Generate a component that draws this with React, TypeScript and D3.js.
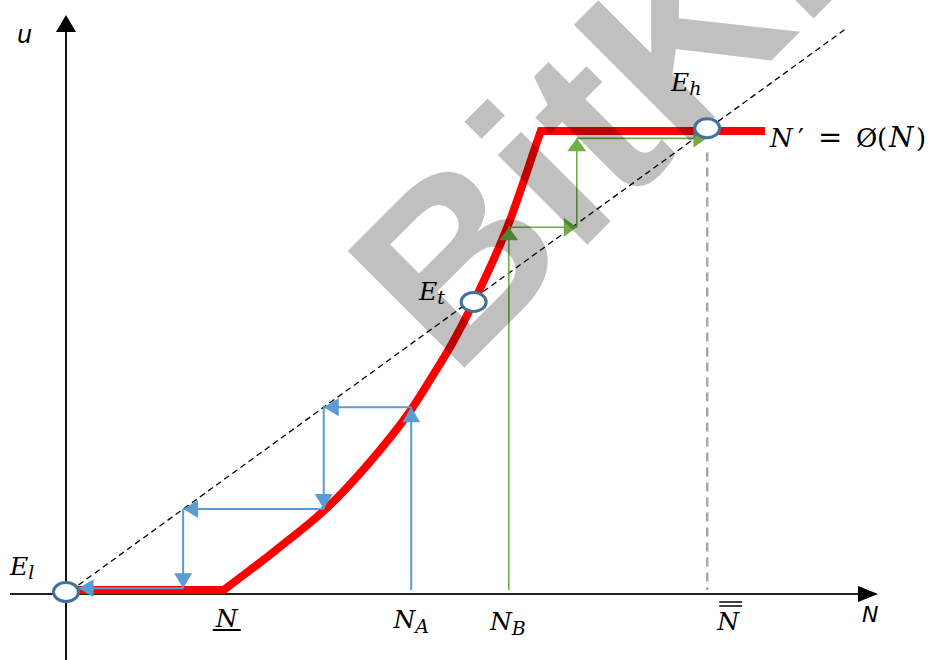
import React from 'react';
import * as d3 from 'd3';

const W = 939;
const H = 660;

// Phase curve N' = Ø(N) (data units: 45° line is u = N)
const curveLow: [number, number][] = [[0.5, 0.7], [20.2, 0.7]];
const curveRise: [number, number][] = [
  [20.2, 0.7], [27, 7.9], [33.4, 15.2], [38.9, 23.3], [44.4, 33], [46.6, 37.8],
  [49.5, 44.4], [52.2, 51.6], [56.5, 64.8], [60.4, 80.2], [60.8, 81.8],
];
const curveHigh: [number, number][] = [[60.8, 81.8], [89.5, 81.8]];

// Cobweb paths
const bluePath: [number, number][] = [
  [44.2, 0.7], [44.2, 33], [33, 33], [33, 15], [15, 15], [15, 1], [1.6, 1],
];
const greenPath: [number, number][] = [
  [56.7, 0.7], [56.7, 64.8], [65.4, 64.8], [65.4, 80.5], [82, 80.5],
];

// Equilibria
const eqNames = ['l', 't', 'h'];
const eqN = [0, 52.2, 82.1];
const eqU = [0.35, 51.6, 82.3];

// x-axis markers
const markN = { low: 20.2, A: 44.2, B: 56.7, high: 82.1 };

const diag: [number, number][] = [[1.6, 1.6], [100, 100]];

const x = d3.scaleLinear().domain([0, 100]).range([66, 847]);
const y = d3.scaleLinear().domain([0, 100]).range([594, 28]);

const lineGen = d3.line<[number, number]>().x(d => x(d[0])).y(d => y(d[1]));
const riseGen = d3.line<[number, number]>().x(d => x(d[0])).y(d => y(d[1])).curve(d3.curveMonotoneX);

function arrowHead(x1: number, y1: number, x2: number, y2: number, L: number, hw: number) {
  const dx = x2 - x1, dy = y2 - y1;
  const len = Math.hypot(dx, dy) || 1;
  const ux = dx / len, uy = dy / len;
  const bx = x2 - ux * L, by = y2 - uy * L;
  const nx = -uy, ny = ux;
  return `${x2},${y2} ${bx + nx * hw},${by + ny * hw} ${bx - nx * hw},${by - ny * hw}`;
}

function Cobweb({ pts, color, L, hw, sw }: { pts: [number, number][]; color: string; L: number; hw: number; sw: number }) {
  const segs = [];
  for (let i = 0; i < pts.length - 1; i++) {
    const x1 = x(pts[i][0]), y1 = y(pts[i][1]);
    const x2 = x(pts[i + 1][0]), y2 = y(pts[i + 1][1]);
    segs.push(
      <g key={i}>
        <line x1={x1} y1={y1} x2={x2} y2={y2} stroke={color} strokeWidth={sw} />
        <polygon points={arrowHead(x1, y1, x2, y2, L, hw)} fill={color} />
      </g>
    );
  }
  return <g>{segs}</g>;
}

const mathFont = '"DejaVu Serif", serif';
const sansFont = '"DejaVu Sans", sans-serif';

export default function App() {
  const redPath =
    (lineGen(curveLow) || '') + (riseGen(curveRise) || '').replace(/^M/, 'L') + (lineGen(curveHigh) || '').replace(/^M/, 'L');
  const axisY = y(0);
  const axisX = x(0);
  return (
    <svg width={W} height={H} style={{ position: 'fixed', left: 0, top: 0, display: 'block', background: '#fff' }}>
      <rect x={0} y={0} width={W} height={H} fill="#fff" />
      {/* axes */}
      <line x1={10} y1={axisY} x2={862} y2={axisY} stroke="#222" strokeWidth={2} />
      <polygon points={`878,${axisY} 858,${axisY - 8} 858,${axisY + 8}`} fill="#000" />
      <line x1={axisX} y1={H} x2={axisX} y2={28} stroke="#111" strokeWidth={2} />
      <polygon points={`${axisX},15 ${axisX - 10},32 ${axisX + 10},32`} fill="#000" />

      {/* 45 degree line */}
      <path d={lineGen(diag) || ''} fill="none" stroke="#000" strokeWidth={1.3} strokeDasharray="6,4" />

      {/* vertical dashed at N double bar */}
      <line x1={x(markN.high)} y1={y(78)} x2={x(markN.high)} y2={axisY - 4} stroke="#a6a6a6" strokeWidth={2.5} strokeDasharray="9,6" />

      {/* red curve */}
      <path d={redPath} fill="none" stroke="#ff0000" strokeWidth={8} strokeLinejoin="miter" />

      {/* cobwebs */}
      <Cobweb pts={bluePath} color="#5b9bd5" L={15} hw={9} sw={2} />
      <Cobweb pts={greenPath} color="#70ad47" L={13} hw={9.5} sw={1.6} />

      {/* watermark */}
      <text
        transform="translate(453,379) rotate(-45)"
        fontFamily='"Liberation Sans", Arial, sans-serif'
        fontWeight="bold"
        fontSize={240}
        fill="#000"
        fillOpacity={0.247}
      >
        BitKi
      </text>

      {/* equilibria */}
      {eqN.map((n, i) => (
        <ellipse key={eqNames[i]} cx={x(n)} cy={y(eqU[i])} rx={12.5} ry={9.5} fill="#fff" stroke="#41719c" strokeWidth={3} />
      ))}

      {/* equilibrium labels */}
      <text x={10} y={575} fontFamily={mathFont} fontStyle="italic" fontSize={25}>
        E<tspan fontSize={19} dy={4}>l</tspan>
      </text>
      <text x={419} y={300} fontFamily={mathFont} fontStyle="italic" fontSize={25}>
        E<tspan fontSize={19} dy={4}>t</tspan>
      </text>
      <text x={671} y={91} fontFamily={mathFont} fontStyle="italic" fontSize={25}>
        E<tspan fontSize={19} dy={4}>h</tspan>
      </text>

      {/* curve label */}
      <text y={147} fontFamily={mathFont} fontSize={26}>
        <tspan x={770} fontStyle="italic">N</tspan>
        <tspan x={798}>′</tspan>
        <tspan x={818} fontSize={29}>=</tspan>
        <tspan x={856}>Ø</tspan>
        <tspan x={877}>(</tspan>
        <tspan x={889} fontStyle="italic" fontSize={28}>N</tspan>
        <tspan x={916}>)</tspan>
      </text>

      {/* axis labels */}
      <text x={17} y={43} fontFamily={sansFont} fontStyle="italic" fontSize={24}>u</text>
      <text x={862} y={622} fontFamily={sansFont} fontStyle="italic" fontSize={22}>N</text>

      {/* x markers */}
      <text x={x(markN.low) + 3} y={627} textAnchor="middle" fontFamily={mathFont} fontStyle="italic" fontSize={25}>N</text>
      <line x1={x(markN.low) - 11} x2={x(markN.low) + 17} y1={630} y2={630} stroke="#000" strokeWidth={2} />

      <text x={x(markN.A)} y={628} textAnchor="middle" fontFamily={mathFont} fontStyle="italic" fontSize={25}>
        N<tspan fontSize={19} dy={5}>A</tspan>
      </text>
      <text x={x(markN.B) - 1} y={630} textAnchor="middle" fontFamily={mathFont} fontStyle="italic" fontSize={25}>
        N<tspan fontSize={19} dy={5}>B</tspan>
      </text>

      <text x={x(markN.high) + 21} y={630} textAnchor="middle" fontFamily={mathFont} fontStyle="italic" fontSize={25}>N</text>
      <line x1={x(markN.high) + 12} x2={x(markN.high) + 35} y1={602} y2={602} stroke="#000" strokeWidth={1.5} />
      <line x1={x(markN.high) + 12} x2={x(markN.high) + 35} y1={606} y2={606} stroke="#000" strokeWidth={1.5} />
    </svg>
  );
}
